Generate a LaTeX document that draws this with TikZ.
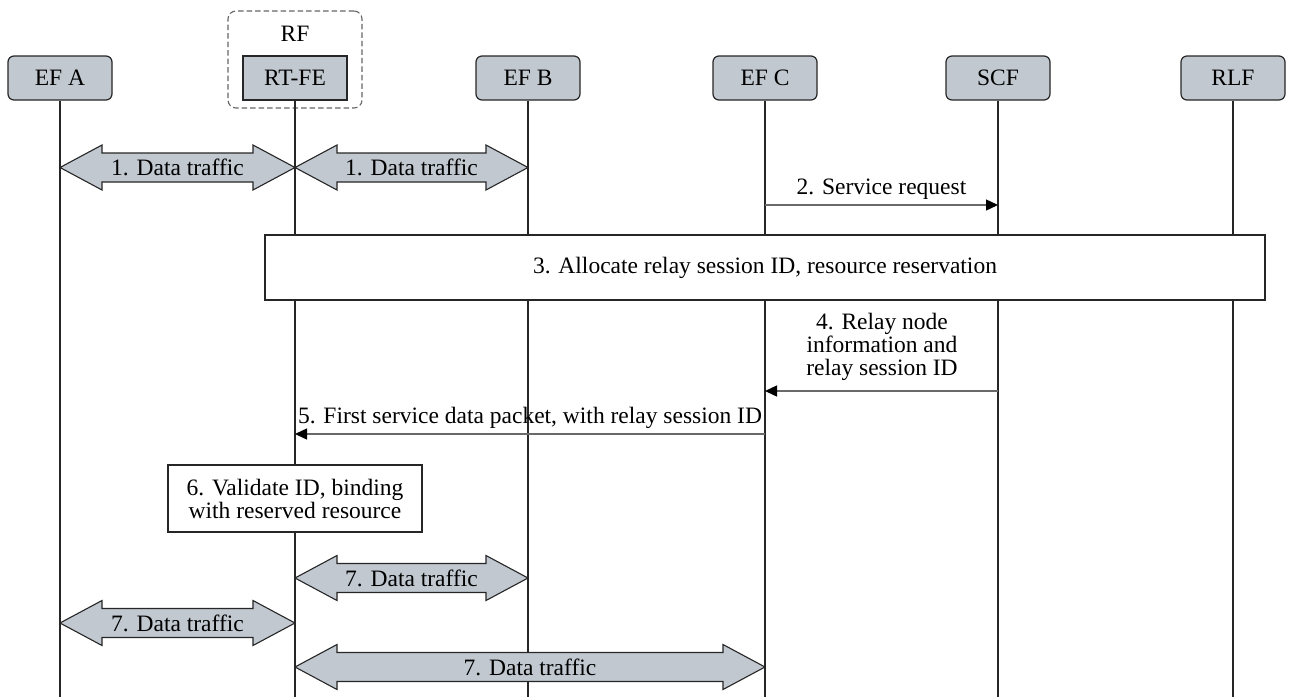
\documentclass[tikz,border=0pt]{standalone}
\usepackage{fontspec}
\setmainfont{Liberation Serif}
\usetikzlibrary{arrows.meta,calc}
\definecolor{efill}{RGB}{193,200,208}
\definecolor{msgc}{RGB}{105,105,105}
% two-headed thick block arrow between two lifeline points
\newcommand\traffic[4]{%
  \draw[flow] (#1) -- ++(42,-22.5) -- ++(0,8) -- ($(#2)+(-42,-14.5)$) -- ++(0,-8) -- (#2)
    -- ++(-42,22.5) -- ++(0,-8) -- ($(#1)+(42,14.5)$) -- ++(0,8) -- cycle;
  \node (#4) at ($(#1)!0.5!(#2)$) {#3};}
\begin{document}
\begin{tikzpicture}[x=1pt,y=-1pt,
  font=\fontsize{23.5}{23}\selectfont,
  entity/.style={draw=black!85, line width=1.2pt, fill=efill, rounded corners=6pt,
    minimum width=104pt, minimum height=44pt, inner sep=0pt},
  fe/.style={entity, rounded corners=0pt},
  life/.style={draw=black!85, line width=1.1pt},
  flow/.style={draw=black!85, line width=1.1pt, fill=efill},
  msg/.style={draw=msgc, line width=1.4pt, -{Triangle[length=12pt,width=11pt,black]}},
  procbox/.style={draw=black!85, line width=1.3pt, fill=white, inner sep=0pt, align=center}]
\useasboundingbox (0,0) rectangle (1291,697);

% functional group around RT-FE
\node[draw=black!60, dash pattern=on 5.5pt off 3pt, line width=1.1pt, rounded corners=8pt,
  minimum width=134pt, minimum height=97pt] (rf) at (295,59.5) {};
\node (rflabel) at (295,34) {RF};

% entities
\node[entity] (efa) at (60,78) {EF A};
\node[fe] (rtfe) at (295,78) {RT-FE};
\node[entity] (efb) at (528,78) {EF B};
\node[entity] (efc) at (765,78) {EF C};
\node[entity] (scf) at (998,78) {SCF};
\node[entity] (rlf) at (1233,78) {RLF};

% lifelines
\foreach \e in {efa,rtfe,efb,efc,scf,rlf}
  \draw[life] (\e.south) -- (\e |- 0,697);

% 1. data traffic
\coordinate (t1a) at (efa |- 0,167.5);
\coordinate (t1b) at (rtfe |- 0,167.5);
\coordinate (t1c) at (efb |- 0,167.5);
\traffic{t1a}{t1b}{1. Data traffic}{l1a}
\traffic{t1b}{t1c}{1. Data traffic}{l1b}

% 2. service request
\coordinate (m2s) at (efc |- 0,205);
\coordinate (m2e) at (scf |- 0,205);
\draw[msg] (m2s) -- node[above=1pt, black] (l2) {2. Service request} (m2e);

% 3. allocation
\node[procbox, minimum width=1000pt, minimum height=65pt] (p3) at (765,267.5)
  {3. Allocate relay session ID, resource reservation};

% 4. relay node information
\coordinate (m4s) at (scf |- 0,391);
\coordinate (m4e) at (efc |- 0,391);
\draw[msg] (m4s) -- (m4e);
\node[align=center] (l4) at (882,347) {4. Relay node\\information and\\relay session ID};

% 5. first service data packet
\coordinate (m5s) at (efc |- 0,434);
\coordinate (m5e) at (rtfe |- 0,434);
\draw[msg] (m5s) -- node[above=1pt, black] (l5) {5. First service data packet, with relay session ID} (m5e);

% 6. validation
\node[procbox, minimum width=254pt, minimum height=67pt] (p6) at (295,498.5)
  {6. Validate ID, binding\\with reserved resource};

% 7. data traffic
\coordinate (t7a) at (rtfe |- 0,578);
\coordinate (t7b) at (efb |- 0,578);
\traffic{t7a}{t7b}{7. Data traffic}{l7a}
\coordinate (t7c) at (efa |- 0,623);
\coordinate (t7d) at (rtfe |- 0,623);
\traffic{t7c}{t7d}{7. Data traffic}{l7b}
\coordinate (t7e) at (rtfe |- 0,667);
\coordinate (t7f) at (efc |- 0,667);
\traffic{t7e}{t7f}{7. Data traffic}{l7c}
\end{tikzpicture}
\end{document}
